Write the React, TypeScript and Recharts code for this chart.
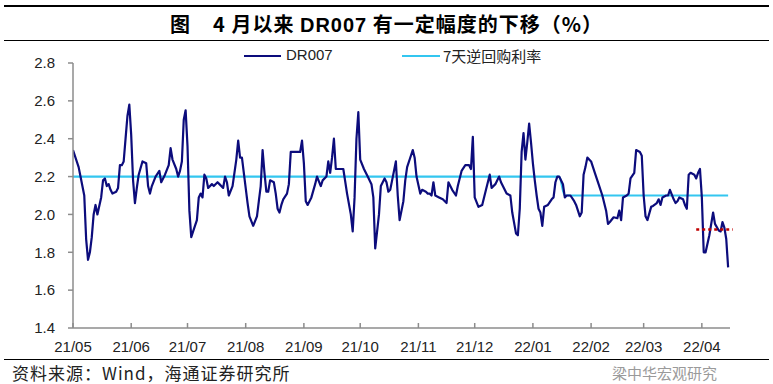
import React from "react";
import { LineChart, Line, XAxis, YAxis, ReferenceLine } from "recharts";

// 日期以 2021-05-01 为第 0 天
const monthLabels = ["21/05", "21/06", "21/07", "21/08", "21/09", "21/10", "21/11", "21/12", "22/01", "22/02", "22/03", "22/04"];
const monthStarts = ["2021-05-01", "2021-06-01", "2021-07-01", "2021-08-01", "2021-09-01", "2021-10-01", "2021-11-01", "2021-12-01", "2022-01-01", "2022-02-01", "2022-03-01", "2022-04-01"];
const yTicks = [1.4, 1.6, 1.8, 2.0, 2.2, 2.4, 2.6, 2.8];

const dr007Days = [
  0, 3, 4, 6, 7, 8, 9, 10, 11, 12, 13, 15, 16, 17, 18, 19, 20, 21, 23, 24, 25, 26, 27, 28, 29, 30,
  31, 32, 33, 34, 35, 37, 39, 40, 41, 42, 44, 46, 47, 49, 51, 52, 53, 55, 56, 57, 58, 59, 60, 61,
  62, 63, 64, 66, 67, 68, 69, 70, 71, 72, 74, 75, 77, 78, 80, 81, 82, 83, 85, 87, 88, 89, 90, 91,
  93, 94, 96, 98, 99, 100, 101, 102, 103, 104, 105, 107, 108, 109, 110, 111, 112, 114, 115, 116,
  118, 121, 122, 123, 124, 125, 127, 129, 130, 132, 133, 135, 136, 137, 138, 139, 140, 142, 144,
  146, 148, 149, 150, 151, 152, 153, 155, 157, 159, 160, 161, 163, 164, 165, 166, 167, 168, 169,
  170, 172, 173, 174, 176, 177, 178, 180, 181, 182, 183, 185, 186, 188, 189, 190, 191, 192, 193,
  195, 197, 199, 200, 202, 204, 205, 207, 209, 211, 212, 213, 214, 216, 218, 220, 222, 223, 225,
  227, 228, 231, 233, 234, 236, 237, 238, 239, 240, 241, 242, 243, 244, 245, 246, 247, 248, 249,
  250, 251, 253, 255, 256, 257, 258, 259, 261, 262, 263, 265, 267, 268, 270, 271, 272, 273, 274,
  276, 278, 280, 282, 284, 285, 286, 288, 290, 291, 292, 293, 295, 296, 297, 299, 300, 302, 303,
  304, 305, 306, 308, 309, 311, 312, 313, 314, 316, 317, 318, 320, 321, 322, 323, 325, 326, 327,
  328, 329, 331, 332, 333, 334, 335, 336, 337, 339, 340, 341, 342, 344, 345, 346, 347, 348, 349,
];
const dr007Values = [
  2.34, 2.25, 2.2, 2.1, 1.87, 1.76, 1.8, 1.88, 2.0, 2.05, 2.0, 2.09, 2.18, 2.19, 2.15, 2.16, 2.13, 2.11, 2.12, 2.14, 2.26, 2.26, 2.28, 2.4, 2.52, 2.58,
  2.42, 2.18, 2.06, 2.14, 2.21, 2.28, 2.27, 2.15, 2.11, 2.15, 2.2, 2.23, 2.17, 2.21, 2.26, 2.35, 2.29, 2.24, 2.2, 2.23, 2.28, 2.5, 2.55, 2.36,
  2.02, 1.88, 1.91, 1.97, 2.09, 2.11, 2.09, 2.21, 2.19, 2.14, 2.16, 2.15, 2.17, 2.16, 2.14, 2.2, 2.17, 2.1, 2.15, 2.29, 2.39, 2.3, 2.3, 2.22,
  2.06, 1.99, 1.94, 1.99, 2.07, 2.15, 2.34, 2.22, 2.12, 2.12, 2.18, 2.17, 2.11, 2.03, 2.01, 2.05, 2.08, 2.11, 2.16, 2.33,
  2.33, 2.33, 2.39, 2.27, 2.07, 2.05, 2.09, 2.16, 2.2, 2.15, 2.18, 2.2, 2.28, 2.22, 2.3, 2.4, 2.24, 2.24, 2.24,
  2.11, 2.0, 1.91, 2.09, 2.4, 2.54, 2.29, 2.24, 2.2, 2.16, 2.09, 1.82, 2.0, 2.15, 2.17, 2.19, 2.17, 2.12, 2.13,
  2.18, 2.28, 2.1, 1.97, 2.07, 2.18, 2.25, 2.31, 2.34, 2.3, 2.2, 2.11, 2.13, 2.12, 2.11, 2.11, 2.1, 2.17, 2.1,
  2.09, 2.08, 2.06, 2.17, 2.13, 2.1, 2.15, 2.23, 2.26, 2.26, 2.24, 2.41, 2.09, 2.04, 2.05, 2.13, 2.21, 2.14, 2.16,
  2.2, 2.17, 2.11, 2.1, 2.01, 1.9, 1.89, 2.03, 2.33, 2.43, 2.29, 2.38, 2.48, 2.38, 2.27, 2.18, 2.1, 2.03, 2.01,
  1.94, 2.04, 2.05, 2.08, 2.09, 2.17, 2.2, 2.2, 2.16, 2.09, 2.1, 2.1, 2.07, 2.05, 1.99, 2.01, 2.21, 2.25, 2.3,
  2.28, 2.22, 2.16, 2.1, 2.02, 1.95, 1.96, 1.985, 1.98, 2.02, 1.97, 2.09, 2.1, 2.11, 2.19, 2.22, 2.34, 2.33, 2.31,
  2.1, 1.99, 1.97, 2.04, 2.045, 2.06, 2.08, 2.05, 2.09, 2.1, 2.1, 2.13, 2.08, 2.06, 2.07, 2.09, 2.08, 2.05, 2.03,
  2.21, 2.22, 2.21, 2.19, 2.22, 2.24, 2.09, 1.8, 1.8, 1.89, 1.95, 2.01, 1.95, 1.915, 1.91, 1.96, 1.93, 1.87, 1.72,
];

// 7天逆回购利率：1月17日由 2.2 降至 2.1
const repoDays = [0, 259, 262, 349];
const repoValues = [2.2, 2.2, 2.1, 2.1];

// 4月以来 DR007 均值（红色虚线）
const aprilAvg = 1.92;
const aprilAvgFrom = 332;
const aprilAvgTo = 351.5;

const dayOf = (s: string) => {
  const [y, m, d] = s.split("-").map(Number);
  return (Date.UTC(y, m - 1, d) - Date.UTC(2021, 4, 1)) / 86400000;
};
const monthTicks = monthStarts.map(dayOf);

const dr007Data = dr007Days.map((day, i) => ({ day, value: dr007Values[i] }));
const repoData = repoDays.map((day, i) => ({ day, value: repoValues[i] }));

const axisColor = "#8c8c8c";
const latin = '"Liberation Sans", Arial, sans-serif';
const cjk = '"Noto Sans CJK SC", "Liberation Sans", sans-serif';

const XTick = (props: any) => {
  const { x, y, payload } = props;
  const label = monthLabels[monthTicks.indexOf(payload.value)];
  return (
    <g>
      <line x1={x} x2={x} y1={y - 10} y2={y - 15} stroke={axisColor} strokeWidth={1.5} />
      <text x={x} y={y + 14} textAnchor="middle" fontSize={15} fontFamily={latin} fill="#222">
        {label}
      </text>
    </g>
  );
};

export default function App() {
  return (
    <div style={{ position: "absolute", left: 0, top: 0, width: 773, height: 384, background: "#fff", overflow: "hidden" }}>
      <div style={{ position: "absolute", left: 4, width: 765, top: 5, borderTop: "2px solid #000" }} />
      <div
        style={{
          position: "absolute",
          left: 0,
          width: 773,
          top: 11,
          textAlign: "center",
          fontFamily: cjk,
          fontWeight: 700,
          fontSize: 20,
          letterSpacing: 1,
          lineHeight: "26px",
          color: "#000",
        }}
      >
        图&nbsp;&nbsp;&nbsp;&nbsp;4 月以来 <span style={{ fontFamily: latin }}>DR007</span> 有一定幅度的下移（%）
      </div>
      <div style={{ position: "absolute", left: 4, width: 765, top: 40, borderTop: "1.5px solid #000" }} />

      <div style={{ position: "absolute", left: 244, top: 55, width: 37, borderTop: "2.5px solid #0c0c7c" }} />
      <div style={{ position: "absolute", left: 286, top: 46, fontFamily: latin, fontSize: 15, color: "#222" }}>DR007</div>
      <div style={{ position: "absolute", left: 402, top: 55, width: 38, borderTop: "2.5px solid #33c6f0" }} />
      <div style={{ position: "absolute", left: 443, top: 45, fontFamily: cjk, fontSize: 15, color: "#222" }}>7天逆回购利率</div>

      <div style={{ position: "absolute", left: 0, top: 0 }}>
        <LineChart width={773} height={384} margin={{ top: 63, right: 43, bottom: 0, left: 0 }}>
          <XAxis
            type="number"
            dataKey="day"
            domain={[0, 350]}
            ticks={monthTicks}
            interval={0}
            allowDataOverflow
            height={56}
            tickSize={0}
            tickMargin={10}
            tick={<XTick />}
            axisLine={{ stroke: axisColor, strokeWidth: 1.5 }}
            tickLine={false}
          />
          <YAxis
            type="number"
            domain={[1.4, 2.8]}
            ticks={yTicks}
            interval={0}
            width={73}
            tickSize={5}
            tickMargin={13}
            tickFormatter={(v: number) => v.toFixed(1)}
            tick={{ fontSize: 15, fontFamily: latin, fill: "#222" }}
            axisLine={{ stroke: axisColor, strokeWidth: 1.5 }}
            tickLine={{ stroke: axisColor, strokeWidth: 1.5 }}
          />
          <Line
            data={repoData}
            dataKey="value"
            type="monotone"
            stroke="#33c6f0"
            strokeWidth={2.2}
            dot={false}
            isAnimationActive={false}
          />
          <Line
            data={dr007Data}
            dataKey="value"
            type="linear"
            stroke="#0c0c7c"
            strokeWidth={2.2}
            strokeLinejoin="round"
            dot={false}
            isAnimationActive={false}
          />
          <ReferenceLine
            segment={[
              { x: aprilAvgFrom, y: aprilAvg },
              { x: aprilAvgTo, y: aprilAvg },
            ]}
            ifOverflow="visible"
            stroke="#c00000"
            strokeWidth={2.5}
            strokeDasharray="3 3"
          />
        </LineChart>
      </div>

      <div style={{ position: "absolute", left: 4, width: 765, top: 359, borderTop: "1.5px solid #000" }} />
      <div
        style={{
          position: "absolute",
          left: 12,
          top: 362,
          fontFamily: cjk,
          fontSize: 17,
          letterSpacing: 1,
          color: "#222",
          lineHeight: "22px",
        }}
      >
        资料来源：Wind，海通证券研究所
      </div>
      <div
        style={{
          position: "absolute",
          left: 612,
          top: 363,
          fontFamily: cjk,
          fontSize: 15,
          color: "#9a9a9a",
          lineHeight: "20px",
        }}
      >
        梁中华宏观研究
      </div>
    </div>
  );
}
